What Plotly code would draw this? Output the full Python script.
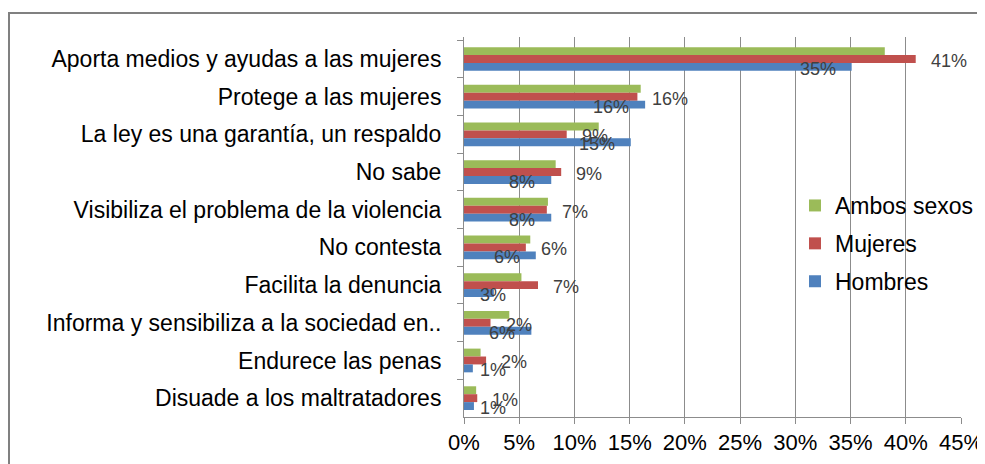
import plotly.graph_objects as go

categories = [
    "Aporta medios y ayudas a las mujeres",
    "Protege a las mujeres",
    "La ley es una garantía, un respaldo",
    "No sabe",
    "Visibiliza el problema de la violencia",
    "No contesta",
    "Facilita la denuncia",
    "Informa y sensibiliza a la sociedad en..",
    "Endurece las penas",
    "Disuade a los maltratadores",
]
ambos = [38.1, 16.0, 12.2, 8.3, 7.6, 6.0, 5.2, 4.1, 1.5, 1.1]
mujeres = [40.9, 15.7, 9.3, 8.8, 7.5, 5.6, 6.7, 2.4, 2.0, 1.2]
hombres = [35.1, 16.4, 15.1, 7.9, 7.9, 6.5, 2.7, 6.1, 0.8, 0.9]
mujeres_labels = ["41%", "16%", "9%", "9%", "7%", "6%", "7%", "2%", "2%", "1%"]
hombres_labels = ["35%", "16%", "15%", "8%", "8%", "6%", "3%", "6%", "1%", "1%"]
x_ticks = [0, 5, 10, 15, 20, 25, 30, 35, 40, 45]

GREEN = "#9BBB59"
RED = "#C0504D"
BLUE = "#4F81BD"
GRID = "#8C8C8C"
FONT = "Liberation Sans, Arial, sans-serif"

fig = go.Figure()
for name, vals, col, grp in [("Ambos sexos", ambos, GREEN, "a"),
                             ("Mujeres", mujeres, RED, "b"),
                             ("Hombres", hombres, BLUE, "c")]:
    fig.add_trace(go.Bar(y=categories, x=vals, name=name, orientation="h",
                         marker=dict(color=col, line=dict(width=0)),
                         legendgroup=grp))

annotations = []
lab_font = dict(family=FONT, size=18, color="#404040")
for cat, v, t in zip(categories, mujeres, mujeres_labels):
    annotations.append(dict(x=v, y=cat, xref="x", yref="y", text=t, showarrow=False,
                            xanchor="left", yanchor="middle", xshift=13, yshift=-2,
                            font=lab_font))
for cat, v, t in zip(categories, hombres, hombres_labels):
    if v < 3.5:
        annotations.append(dict(x=0, y=cat, xref="x", yref="y", text=t, showarrow=False,
                                xanchor="left", yanchor="middle", xshift=14, yshift=-10,
                                font=lab_font))
    else:
        annotations.append(dict(x=v, y=cat, xref="x", yref="y", text=t, showarrow=False,
                                xanchor="right", yanchor="middle", xshift=-14, yshift=-10,
                                font=lab_font))

# the page adds an 8px body margin; figure coordinates are offset accordingly
L, R, T, B = 456, 32, 29, 55
W, H = 985, 464
pw = W - L - R
ph = H - T - B

fig.update_layout(
    width=W, height=H,
    margin=dict(l=L, r=R, t=T, b=B, pad=0, autoexpand=False),
    paper_bgcolor="white", plot_bgcolor="white",
    barmode="group", bargap=0.37, bargroupgap=0,
    font=dict(family=FONT, size=22, color="#000000"),
    showlegend=True,
    legend=dict(x=(787 - L) / pw, y=(H - B - 176) / ph, xanchor="left", yanchor="top",
                bgcolor="rgba(0,0,0,0)", font=dict(family=FONT, size=23, color="#000"),
                tracegroupgap=5, traceorder="grouped"),
    annotations=annotations,
    shapes=[dict(type="rect", xref="paper", yref="paper",
                 x0=(1 - L) / pw, x1=1.2, y0=-0.3, y1=1 + (T - 5) / ph,
                 line=dict(color="#808080", width=2), fillcolor="rgba(0,0,0,0)",
                 layer="below")],
    xaxis=dict(range=[0, 45], tickvals=x_ticks, ticktext=[f"{v}%" for v in x_ticks],
               showgrid=True, gridcolor=GRID, gridwidth=1, zeroline=False,
               showline=True, linecolor=GRID, linewidth=1,
               ticks="outside", ticklen=6, tickcolor=GRID,
               tickfont=dict(family=FONT, size=22, color="#000")),
    yaxis=dict(type="category", categoryorder="array", categoryarray=categories,
               autorange="reversed", showgrid=False, zeroline=False,
               showline=True, linecolor=GRID, linewidth=1,
               ticks="outside", ticklen=6, tickcolor=GRID, tickson="boundaries",
               ticklabelstandoff=17,
               tickfont=dict(family=FONT, size=23, color="#000")),
)

fig.write_html("out.html")
